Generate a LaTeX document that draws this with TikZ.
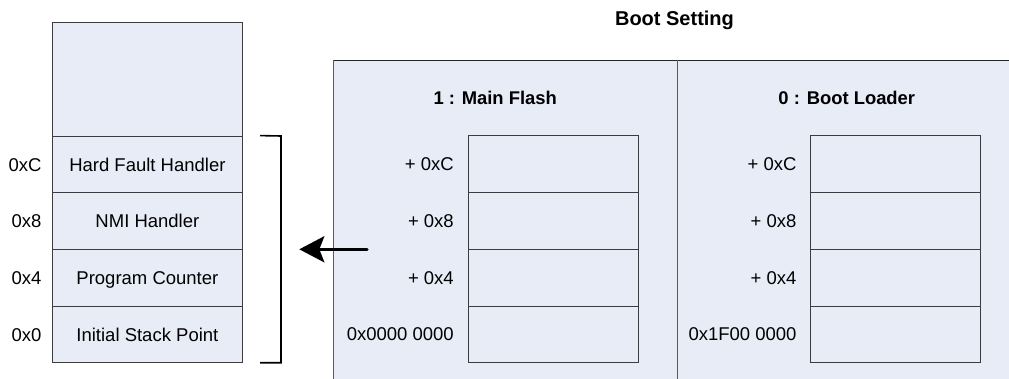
\documentclass[tikz,border=0pt]{standalone}
\usepackage{fontspec}
\setmainfont{Liberation Sans}
\usetikzlibrary{arrows.meta}

\definecolor{panelblue}{RGB}{231,236,247}
\definecolor{rowline}{RGB}{60,60,60}

\tikzset{
    cell/.style={draw=rowline, fill=panelblue, line width=0.9pt, inner sep=0pt,
        minimum width=170pt, minimum height=56.7pt,
        text height=13.3pt, text depth=0pt, font=\fontsize{18.5}{22}\selectfont},
    addr/.style={anchor=east, inner sep=0pt, text height=13.3pt, text depth=0pt,
        font=\fontsize{18.5}{22}\selectfont},
    title/.style={inner sep=0pt, font=\fontsize{18.4}{22}\selectfont\bfseries}
}

\begin{document}
\begin{tikzpicture}[x=1pt,y=-1pt]
    \useasboundingbox (0,0) rectangle (1009,379);

    % boot setting panel
    \fill [panelblue] (333,60.5) rectangle (1009,380);
    \draw [line width=1.3pt, black!85] (333,60.5) -- (1009,60.5);
    \draw [line width=1pt, black!65] (333,60.5) -- (333,380);
    \draw [line width=1.6pt, black!65] (677.3,60.5) -- (677.3,380);
    \node [title, font=\fontsize{20}{24}\selectfont\bfseries] (bootsetting) at (674.5,20) {Boot Setting};
    \node [title] (mainflash) at (495.2,98.3) {1 : Main Flash};
    \node [title] (bootloader) at (846.8,98.3) {0 : Boot Loader};

    % vector table
    \node [cell, minimum width=189.8pt, minimum height=113.3pt] (freespace) at (147.4,79.4) {};
    \node [cell, minimum width=189.8pt] (hardfault) at (147.4,164.4) {Hard Fault Handler};
    \node [cell, minimum width=189.8pt] (nmi) at (147.4,221) {NMI Handler};
    \node [cell, minimum width=189.8pt] (pc) at (147.4,277.7) {Program Counter};
    \node [cell, minimum width=189.8pt] (sp) at (147.4,334.4) {Initial Stack Point};
    \node [addr] (offc) at (41.7,164.4) {0xC};
    \node [addr] (off8) at (41.7,221) {0x8};
    \node [addr] (off4) at (41.7,277.7) {0x4};
    \node [addr] (off0) at (41.7,334.4) {0x0};

    % flash and loader rows
    \foreach \i/\y/\lbl in {3/164.1/+ 0xC, 2/220.8/+ 0x8, 1/277.6/+ 0x4} {
        \node [cell] (flash\i) at (553.8,\y) {};
        \node [cell] (loader\i) at (895.2,\y) {};
        \node [addr] (flashaddr\i) at (454,\y) {\lbl};
        \node [addr] (loaderaddr\i) at (796.7,\y) {\lbl};
    }
    \node [cell] (flash0) at (553.8,334.3) {};
    \node [cell] (loader0) at (895.2,334.3) {};
    \node [addr] (flashaddr0) at (454,334.3) {0x0000 0000};
    \node [addr] (loaderaddr0) at (796.7,334.3) {0x1F00 0000};

    % bracket and remap arrow
    \draw [line width=1.6pt] (hardfault.north east -| 260,0) -- (281,136) -- (281,362.7) -- (260,362.7);
    \coordinate (remapfrom) at (367,249.3);
    \coordinate (remapto) at (299.3,249.3);
    \draw [line width=3.2pt, line cap=round, -{Stealth[length=25pt,width=26pt,inset=5pt]}] (remapfrom) -- (remapto);
\end{tikzpicture}
\end{document}
